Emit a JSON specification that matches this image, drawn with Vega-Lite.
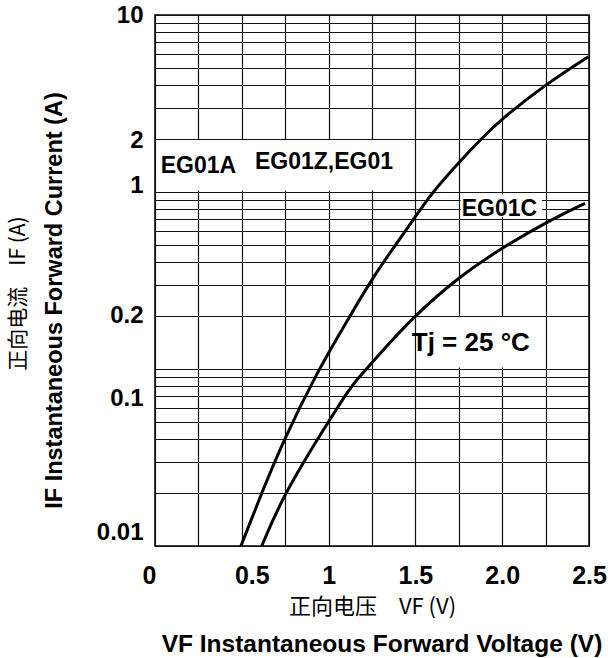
{
  "$schema": "https://vega.github.io/schema/vega-lite/v6.json",
  "width": 434,
  "height": 531,
  "autosize": {"type": "none"},
  "padding": {"left": 155, "top": 15, "right": 19, "bottom": 112},
  "background": "white",
  "config": {
    "font": "Liberation Sans",
    "view": {"stroke": "#000", "strokeWidth": 1.5}
  },
  "title": {
    "text": "VF  Instantaneous Forward Voltage (V)",
    "orient": "bottom",
    "anchor": "middle",
    "fontSize": 24.5,
    "fontWeight": "bold",
    "font": "Liberation Sans",
    "color": "#000",
    "offset": 16,
    "dx": 10
  },
  "datasets": {
    "curves": [
      {"series": "EG01A/EG01Z/EG01", "v": 0.495, "i": 0.01},
      {"series": "EG01A/EG01Z/EG01", "v": 0.615, "i": 0.02},
      {"series": "EG01A/EG01Z/EG01", "v": 0.739, "i": 0.0394},
      {"series": "EG01A/EG01Z/EG01", "v": 0.941, "i": 0.0987},
      {"series": "EG01A/EG01Z/EG01", "v": 1.066, "i": 0.159},
      {"series": "EG01A/EG01Z/EG01", "v": 1.254, "i": 0.333},
      {"series": "EG01A/EG01Z/EG01", "v": 1.488, "i": 0.695},
      {"series": "EG01A/EG01Z/EG01", "v": 1.565, "i": 0.9},
      {"series": "EG01A/EG01Z/EG01", "v": 1.661, "i": 1.17},
      {"series": "EG01A/EG01Z/EG01", "v": 1.753, "i": 1.48},
      {"series": "EG01A/EG01Z/EG01", "v": 1.891, "i": 2.05},
      {"series": "EG01A/EG01Z/EG01", "v": 1.995, "i": 2.58},
      {"series": "EG01A/EG01Z/EG01", "v": 2.258, "i": 4.11},
      {"series": "EG01A/EG01Z/EG01", "v": 2.496, "i": 5.81},
      {"series": "EG01C", "v": 0.615, "i": 0.01},
      {"series": "EG01C", "v": 0.739, "i": 0.0194},
      {"series": "EG01C", "v": 0.989, "i": 0.0488},
      {"series": "EG01C", "v": 1.123, "i": 0.0778},
      {"series": "EG01C", "v": 1.162, "i": 0.0867},
      {"series": "EG01C", "v": 1.254, "i": 0.11},
      {"series": "EG01C", "v": 1.488, "i": 0.198},
      {"series": "EG01C", "v": 1.753, "i": 0.333},
      {"series": "EG01C", "v": 1.995, "i": 0.481},
      {"series": "EG01C", "v": 2.258, "i": 0.679},
      {"series": "EG01C", "v": 2.477, "i": 0.863}
    ],
    "boxes": [
      {"v": 0.01, "v2": 1.49, "i": 1.02, "i2": 1.97},
      {"v": 1.76, "v2": 2.23, "i": 0.72, "i2": 0.97},
      {"v": 1.51, "v2": 2.24, "i": 0.102, "i2": 0.196}
    ],
    "labels": [
      {"label": "EG01A", "v": 0.033, "i": 1.406},
      {"label": "EG01Z,EG01", "v": 0.576, "i": 1.483},
      {"label": "EG01C", "v": 1.767, "i": 0.801}
    ],
    "tj": [
      {"label": "Tj = 25 °C", "v": 1.479, "i": 0.14}
    ]
  },
  "encoding": {
    "x": {
      "field": "v",
      "type": "quantitative",
      "scale": {"domain": [0, 2.5], "nice": false, "zero": false},
      "axis": {
        "values": [0, 0.25, 0.5, 0.75, 1, 1.25, 1.5, 1.75, 2, 2.25, 2.5],
        "grid": true,
        "gridColor": "#111",
        "gridWidth": 1.2,
        "gridOpacity": 1,
        "domain": false,
        "ticks": false,
        "labelExpr": "datum.value == 0 ? '0' : datum.value == 0.5 ? '0.5' : datum.value == 1 ? '1' : datum.value == 1.5 ? '1.5' : datum.value == 2 ? '2.0' : datum.value == 2.5 ? '2.5' : ''",
        "labelFontSize": 25,
        "labelFontWeight": "bold",
        "labelColor": "#000",
        "labelPadding": 17,
        "labelFlush": false,
        "labelOverlap": false,
        "labelOffset": {"condition": [{"test": "datum.value == 0", "value": -6}, {"test": "datum.value == 0.5", "value": 10}], "value": 0},
        "title": "正向电压　VF (V)",
        "titleFont": "Noto Sans CJK SC",
        "titleFontWeight": "normal",
        "titleFontSize": 22,
        "titleColor": "#000",
        "titlePadding": 8
      }
    }
  },
  "layer": [
    {
      "data": {"name": "boxes"},
      "mark": {"type": "rect", "fill": "white", "stroke": null},
      "encoding": {
        "x2": {"field": "v2"},
        "y": {
          "field": "i",
          "type": "quantitative",
          "scale": {"type": "log", "domain": [0.01, 10], "nice": false},
          "axis": {
            "orient": "left",
            "values": [0.01, 0.02, 0.03, 0.04, 0.05, 0.06, 0.07, 0.08, 0.09, 0.1, 0.2, 0.3, 0.4, 0.5, 0.6, 0.7, 0.8, 0.9, 1, 2, 3, 4, 5, 6, 7, 8, 9, 10],
            "grid": true,
            "gridColor": "#111",
            "gridWidth": 1.2,
            "gridOpacity": 1,
            "domain": false,
            "ticks": false,
            "labelExpr": "datum.value == 0.01 ? '0.01' : datum.value == 0.1 ? '0.1' : datum.value == 0.2 ? '0.2' : datum.value == 1 ? '1' : datum.value == 2 ? '2' : datum.value == 10 ? '10' : ''",
            "labelFontSize": 24,
            "labelFontWeight": "bold",
            "labelColor": "#000",
            "labelPadding": 12,
            "labelBaseline": "middle",
            "labelOverlap": false,
            "labelFlush": false,
            "labelOffset": {"condition": [{"test": "datum.value == 1", "value": -7}, {"test": "datum.value == 0.1", "value": 29}, {"test": "datum.value == 0.01", "value": -14}, {"test": "datum.value == 2", "value": 2}], "value": 0},
            "title": "IF Instantaneous Forward Current (A)",
            "titleFontSize": 23.5,
            "titleFontWeight": "bold",
            "titleColor": "#000",
            "titlePadding": 30,
            "titleY": 285
          }
        },
        "y2": {"field": "i2"}
      }
    },
    {
      "data": {"name": "curves"},
      "mark": {"type": "line", "color": "#000", "strokeWidth": 3, "interpolate": "basis"},
      "encoding": {
        "detail": {"field": "series"},
        "y": {
          "field": "i",
          "type": "quantitative",
          "axis": {
            "orient": "left",
            "grid": false,
            "domain": false,
            "ticks": false,
            "labels": false,
            "title": "正向电流　IF (A)",
            "titleFont": "Noto Sans CJK SC",
            "titleFontWeight": "normal",
            "titleFontSize": 21,
            "titleColor": "#000",
            "titlePadding": 127,
            "titleY": 278
          }
        }
      }
    },
    {
      "data": {"name": "labels"},
      "mark": {"type": "text", "align": "left", "baseline": "middle", "fontSize": 23, "fontWeight": "bold", "color": "#000"},
      "encoding": {
        "y": {"field": "i", "type": "quantitative", "axis": null},
        "text": {"field": "label"}
      }
    },
    {
      "data": {"name": "tj"},
      "mark": {"type": "text", "align": "left", "baseline": "middle", "fontSize": 26, "fontWeight": "bold", "color": "#000"},
      "encoding": {
        "y": {"field": "i", "type": "quantitative", "axis": null},
        "text": {"field": "label"}
      }
    }
  ],
  "resolve": {"axis": {"y": "independent"}}
}
